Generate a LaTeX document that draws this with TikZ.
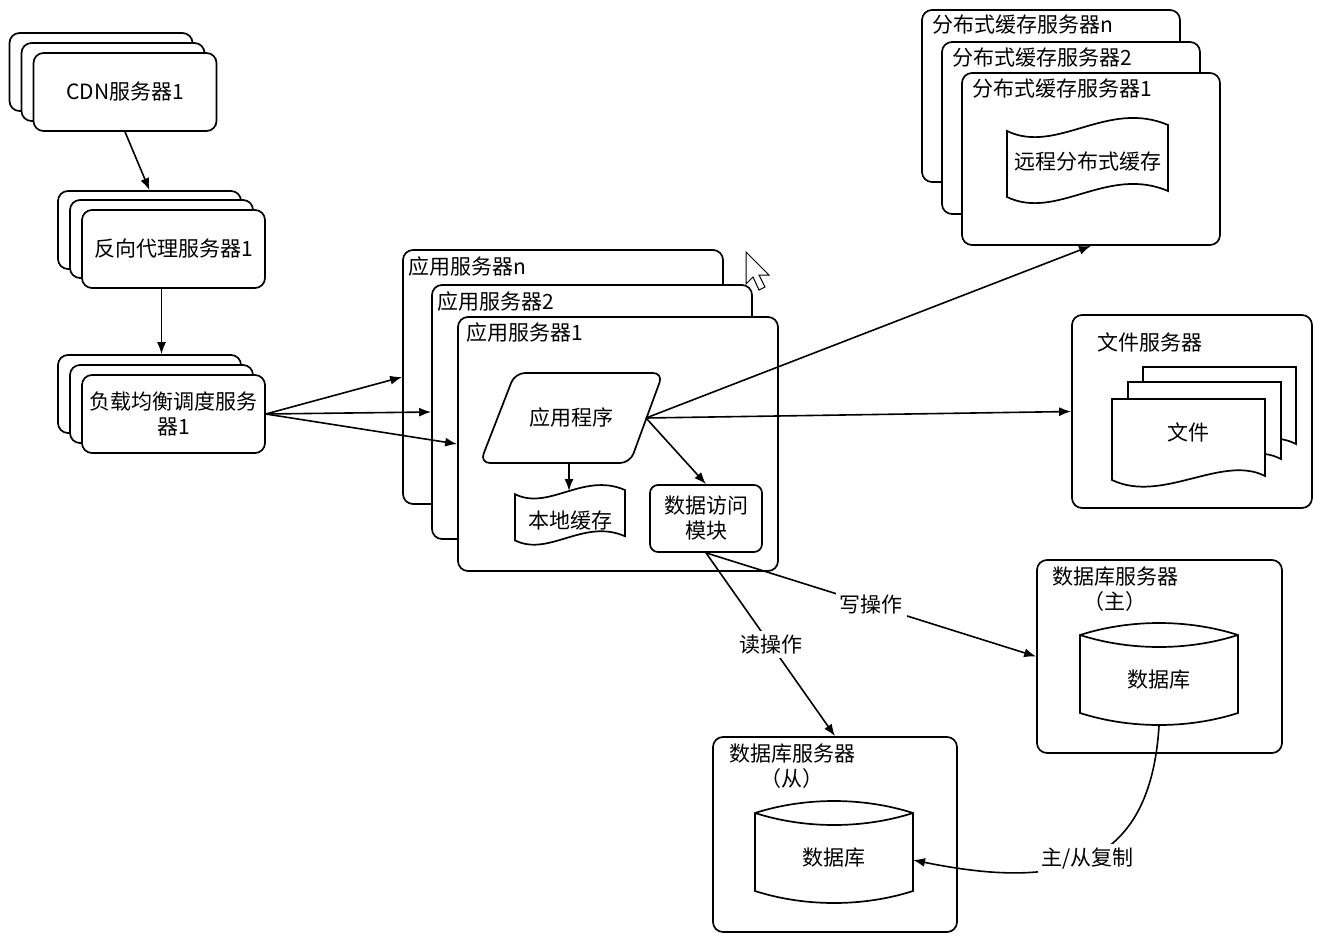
\documentclass[tikz,border=0pt]{standalone}
\usepackage{fontspec}
\setmainfont{Noto Sans CJK SC}
\usepackage{tikz}
\usetikzlibrary{calc, arrows, arrows.meta, shapes}
\tikzset{>={Latex[length=6pt, width=4.5pt]}}
\tikzset{
  srv/.style={draw, fill=white, rounded corners=5pt, inner sep=0pt},
  stk/.style={srv, minimum width=91.5pt, minimum height=39pt},
  appbox/.style={srv, minimum width=160pt, minimum height=127pt},
  cachebox/.style={srv, minimum width=129pt, minimum height=86pt},
  lbl/.style={inner sep=0pt},
  conn/.style={->, line width=0.8pt},
  onl/.style={fill=white, inner sep=2pt},
  tape/.pic={\draw[fill=white] (0,6) .. controls (50,30) and (100,-26) .. (161,0) -- (161,66) .. controls (100,40) and (50,96) .. (0,72) -- cycle;},
  filedoc/.pic={\draw[fill=white] (0,0) -- (153,0) -- (153,77) .. controls (110,55) and (50,105) .. (0,81) -- cycle;},
  dbcyl/.pic={\draw[fill=white] (0,0) -- (0,78) .. controls (50,94) and (108,94) .. (158,78) -- (158,0) .. controls (108,-16) and (50,-16) .. (0,0) -- cycle;
    \draw (0,0) .. controls (50,16) and (108,16) .. (158,0);}
}

\begin{document}
\begin{tikzpicture}[x=0.5pt, y=-0.5pt, line width=0.85pt, font=\fontsize{10.5pt}{12.5pt}\selectfont]
\useasboundingbox (0,0) rectangle (1339,937);
% CDN, proxy and balancer stacks
\node[stk] (cdn3) at (101,72) {};
\node[stk] (cdn2) at (113,82) {};
\node[stk] (cdn1) at (125,92) {CDN服务器1};
\node[stk] (px3) at (149.5,230) {};
\node[stk] (px2) at (161.5,239) {};
\node[stk] (px1) at (173.5,249) {反向代理服务器1};
\node[stk] (lb3) at (149.5,394) {};
\node[stk] (lb2) at (161.5,404) {};
\node[stk, align=center] (lb1) at (173.5,414) {负载均衡调度服务\\器1};

% application servers
\node[appbox] (appn) at (563,377) {};
\node[lbl, anchor=west] (appnL) at ([shift={(5,17)}]appn.north west) {应用服务器n};
\node[appbox] (app2) at (592,412) {};
\node[lbl, anchor=west] (app2L) at ([shift={(5,17)}]app2.north west) {应用服务器2};
\node[appbox] (app1) at (618,444) {};
\node[lbl, anchor=west] (app1L) at ([shift={(8,16)}]app1.north west) {应用服务器1};
\draw[rounded corners=5pt, fill=white] (515,373) -- (663,373) -- (630,463) -- (480,463) -- cycle;
\node (app) at (571,418) {应用程序};
\coordinate (appR) at (646,418);
\coordinate (appB) at (569,463);
\pic[xscale=0.683, yscale=0.7] at (515,490) {tape};
\node (lcache) at (570,521) {本地缓存};
\coordinate (lcacheT) at (569,491);
\node[srv, rounded corners=4pt, minimum width=56pt, minimum height=33.5pt, align=center] (dam) at (706,518.5) {数据访问\\模块};

% distributed cache
\node[cachebox] (dcn) at (1051,96) {};
\node[lbl, anchor=west] (dcnL) at ([shift={(10,15)}]dcn.north west) {分布式缓存服务器n};
\node[cachebox] (dc2) at (1071,128) {};
\node[lbl, anchor=west] (dc2L) at ([shift={(10,16)}]dc2.north west) {分布式缓存服务器2};
\node[cachebox] (dc1) at (1091,159) {};
\node[lbl, anchor=west] (dc1L) at ([shift={(10,16)}]dc1.north west) {分布式缓存服务器1};
\pic at (1007,125) {tape};
\node (rcache) at (1088,162) {远程分布式缓存};

% file server
\node[srv, minimum width=120pt, minimum height=96.5pt] (fsrv) at (1192,411.5) {};
\node[lbl, anchor=west] (fsrvL) at ([shift={(25,28)}]fsrv.north west) {文件服务器};
\pic at (1143,367) {filedoc};
\pic at (1128,382) {filedoc};
\pic at (1112,399) {filedoc};
\node (file) at (1188,432) {文件};

% databases
\node[srv, minimum width=122.5pt, minimum height=96.5pt] (mdbsrv) at (1159.5,656.5) {};
\node[lbl, align=center] (mdbL) at ([shift={(79,30)}]mdbsrv.north west) {数据库服务器\\（主）};
\pic at (1080,635) {dbcyl};
\node (mdb) at (1159,680) {数据库};
\coordinate (mdbB) at (1159,726);
\node[srv, minimum width=122pt, minimum height=97.5pt] (sdbsrv) at (835,834.5) {};
\node[lbl, align=center] (sdbL) at ([shift={(80,30.5)}]sdbsrv.north west) {数据库服务器\\（从）};
\pic at (755,813) {dbcyl};
\node (sdb) at (834,858) {数据库};
\coordinate (sdbR) at (913,860);

% connectors
\draw[conn] (cdn1.south) -- (px3.north);
\draw[conn] (px2.south |- px1.south) -- (px2.south |- lb3.north);
\draw[conn] (lb1.east) -- (appn.west);
\draw[conn] (lb1.east) -- (app2.west);
\draw[conn] (lb1.east) -- (app1.west);
\draw[conn] (appB) -- (lcacheT);
\draw[conn] (appR) -- (dam.north);
\draw[conn] (appR) -- (dc1.south);
\draw[conn] (appR) -- (fsrv.west);
\draw[conn] (dam.south) -- node[onl, pos=0.5] (readL) {读操作} (sdbsrv.north);
\draw[conn] (dam.south) -- node[onl, pos=0.5] (writeL) {写操作} (mdbsrv.west);
\draw[conn] (mdbB) .. controls (1150,870) and (1060,890) .. node[onl, pos=0.5] (replL) {主/从复制} (sdbR);

% mouse pointer
\draw[line width=0.5pt, fill=white] (746,252) -- (746,284) -- (753,277) -- (759,290) -- (765,287) -- (759,275) -- (769,275) -- cycle;
\end{tikzpicture}
\end{document}
